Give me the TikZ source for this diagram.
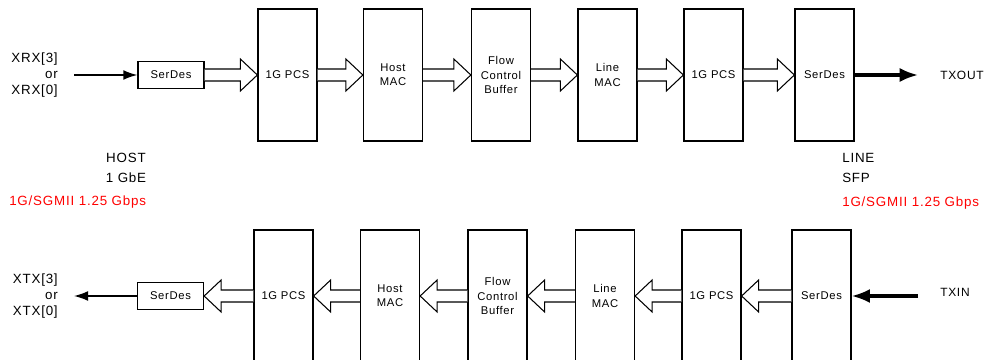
\documentclass[tikz,border=0pt]{standalone}
\usepackage{fontspec}
\setmainfont[LetterSpace=6]{Liberation Sans}
\usetikzlibrary{calc,arrows.meta}
\def\fatright(#1)(#2){\draw[line width=0.75pt, fill=white] ($(#1.east)+(0,-6)$) -- ($(#2.west)+(-17,-6)$) -- ($(#2.west)+(-17,-16)$) -- (#2.west) -- ($(#2.west)+(-17,16)$) -- ($(#2.west)+(-17,6)$) -- ($(#1.east)+(0,6)$);}
\def\fatleft(#1)(#2){\draw[line width=0.75pt, fill=white] ($(#2.west)+(0,-6)$) -- ($(#1.east)+(17,-6)$) -- ($(#1.east)+(17,-16)$) -- (#1.east) -- ($(#1.east)+(17,16)$) -- ($(#1.east)+(17,6)$) -- ($(#2.west)+(0,6)$);}

\begin{document}
\begin{tikzpicture}[x=0.025cm, y=-0.025cm,
	blk/.style={draw, line width=0.9pt, minimum width=1.475cm, minimum height=3.3cm, inner sep=0pt, align=center, font=\fontsize{8}{10}\selectfont},
	sdes/.style={draw, line width=0.9pt, minimum width=1.65cm, minimum height=0.675cm, inner sep=0pt, font=\fontsize{8}{10}\selectfont},
	lbl/.style={inner sep=0pt, font=\fontsize{9.5}{11.5}\selectfont},
	port/.style={inner sep=0pt, anchor=west, font=\fontsize{8.5}{10}\selectfont}]
		%%%%% START %%%%%
		\useasboundingbox (0,0) rectangle (985,360);
		
		% receive path, top row
		\node[sdes] (rxser) at (171,75) {SerDes};
		\node[blk] (rxpcsA) at (287.5,75) {1G PCS};
		\node[blk] (rxhmac) at (393,75) {Host\\MAC};
		\node[blk] (rxfcb) at (501,75) {Flow\\Control\\Buffer};
		\node[blk] (rxlmac) at (607.5,75) {Line\\MAC};
		\node[blk] (rxpcsB) at (713.5,75) {1G PCS};
		\node[blk] (rxserB) at (824.5,75) {SerDes};
		
		\fatright(rxser)(rxpcsA)
		\fatright(rxpcsA)(rxhmac)
		\fatright(rxhmac)(rxfcb)
		\fatright(rxfcb)(rxlmac)
		\fatright(rxlmac)(rxpcsB)
		\fatright(rxpcsB)(rxserB)
		
		\node[lbl, align=right, anchor=east] (xrx) at (58,75) {XRX[3]\\or\\XRX[0]};
		\coordinate (xrxin) at (74,75);
		\draw[line width=1pt, -{Latex[length=10pt, width=7pt]}] (xrxin) -- (rxser);
		\node[port] (txout) at (940,75) {TXOUT};
		\coordinate (txoutend) at (918,75);
		\draw[line width=2.2pt, -{Latex[length=13pt, width=10pt]}] (rxserB) -- (txoutend);
		
		% side labels
		\node[lbl, align=center, font=\fontsize{9.5}{14}\selectfont] (host) at (126,168) {HOST\\1 GbE};
		\node[lbl, align=left, anchor=west, font=\fontsize{9.5}{14}\selectfont] (line) at (842,168) {LINE\\SFP};
		\node[lbl, text=red, anchor=west] (rateL) at (9,202) {1G/SGMII 1.25 Gbps};
		\node[lbl, text=red, anchor=west] (rateR) at (842,203) {1G/SGMII 1.25 Gbps};
		
		% transmit path, bottom row
		\node[sdes] (txser) at (170.5,296) {SerDes};
		\node[blk] (txpcsA) at (283.5,296) {1G PCS};
		\node[blk] (txhmac) at (390,296) {Host\\MAC};
		\node[blk] (txfcb) at (497.5,296) {Flow\\Control\\Buffer};
		\node[blk] (txlmac) at (605,296) {Line\\MAC};
		\node[blk] (txpcsB) at (711.5,296) {1G PCS};
		\node[blk] (txserB) at (821.5,296) {SerDes};
		
		\fatleft(txser)(txpcsA)
		\fatleft(txpcsA)(txhmac)
		\fatleft(txhmac)(txfcb)
		\fatleft(txfcb)(txlmac)
		\fatleft(txlmac)(txpcsB)
		\fatleft(txpcsB)(txserB)
		
		\node[lbl, align=right, anchor=east] (xtx) at (58,296) {XTX[3]\\or\\XTX[0]};
		\coordinate (xtxout) at (74,296);
		\draw[line width=1pt, -{Latex[length=10pt, width=7pt]}] (txser) -- (xtxout);
		\node[port] (txin) at (940,292) {TXIN};
		\coordinate (txinend) at (918,296);
		\draw[line width=2.2pt, -{Latex[length=13pt, width=10pt]}] (txinend) -- (txserB);
		
		%%%%% END %%%%%
\end{tikzpicture}
\end{document}
